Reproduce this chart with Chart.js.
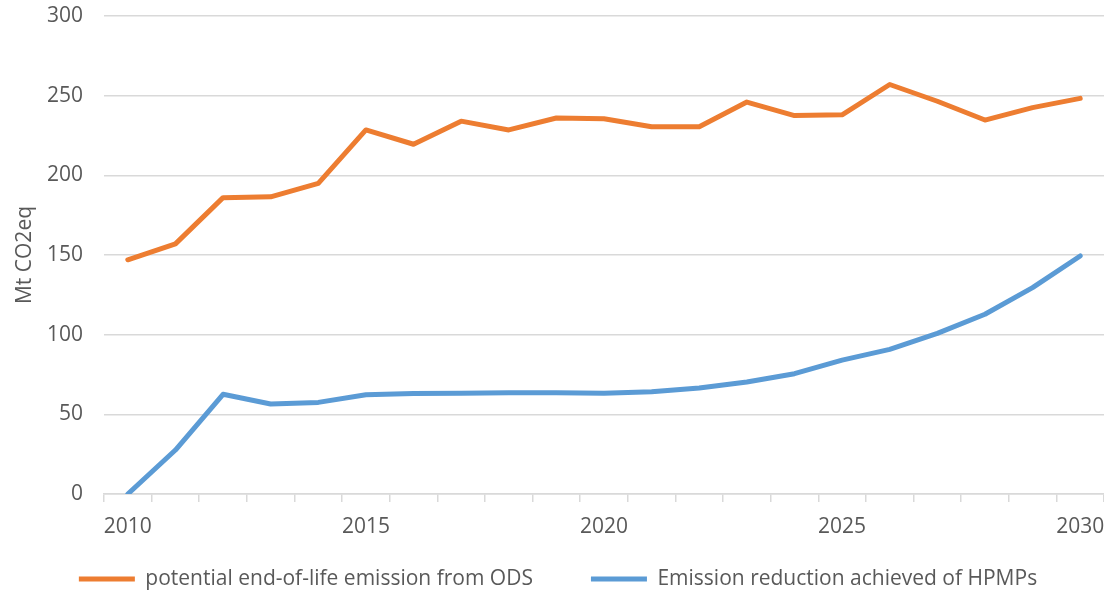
<!DOCTYPE html>
<html>
<head>
<meta charset="utf-8">
<script src="https://cdn.jsdelivr.net/npm/chart.js@4.4.0/dist/chart.umd.min.js"></script>
<style>
  html, body { margin: 0; padding: 0; background: #ffffff; }
  #wrap { width: 1104px; height: 592px; }
</style>
</head>
<body>
<div id="wrap"><canvas id="c" width="1104" height="592"></canvas></div>
<script>
const years = ['2010','2011','2012','2013','2014','2015','2016','2017','2018','2019','2020',
               '2021','2022','2023','2024','2025','2026','2027','2028','2029','2030'];
const potentialODS = [147, 157, 186, 186.5, 195, 228.5, 219.5, 234, 228.5, 236, 235.5,
                      230.5, 230.5, 246, 237.5, 238, 257, 246.5, 234.7, 242.5, 248.3];
const reductionHPMP = [0, 27.6, 62.6, 56.5, 57.5, 62.3, 63, 63.2, 63.6, 63.6, 63.2,
                       64.2, 66.5, 70.3, 75.5, 84, 90.8, 100.8, 112.8, 129.5, 149.4];
const seriesNames = ['potential end-of-life emission from ODS', 'Emission reduction achieved of HPMPs'];
const yTitle = 'Mt CO2eq';

const FONT = '"Open Sans", "Liberation Sans", sans-serif';
const TXT = '#595959';
const FS = 21;

// Move the legend row (Chart.js uses the same padding for item gaps and vertical offset)
const legendShift = {
  id: 'legendShift',
  afterLayout(chart) {
    const lg = chart.legend;
    if (lg) {
      lg.top -= 27.5;
      lg.bottom = chart.height;
      lg.height = lg.bottom - lg.top;
      lg.left += 6;
      lg.right += 6;
    }
  }
};

new Chart(document.getElementById('c'), {
  type: 'line',
  data: {
    labels: years,
    datasets: [
      { label: seriesNames[0], data: potentialODS, borderColor: '#ED7D31', backgroundColor: '#ED7D31',
        borderWidth: 5, pointRadius: 0, tension: 0, borderCapStyle: 'round', borderJoinStyle: 'round' },
      { label: seriesNames[1], data: reductionHPMP, borderColor: '#5B9BD5', backgroundColor: '#5B9BD5',
        borderWidth: 5, pointRadius: 0, tension: 0, borderCapStyle: 'round', borderJoinStyle: 'round' }
    ]
  },
  plugins: [legendShift],
  options: {
    responsive: false,
    animation: false,
    layout: { padding: { top: 0, right: 0, bottom: 0, left: 0 } },
    plugins: {
      legend: {
        position: 'bottom',
        maxHeight: 54,
        labels: {
          usePointStyle: true,
          pointStyle: 'line',
          pointStyleWidth: 56,
          boxHeight: FS,
          padding: 58,
          color: TXT,
          font: { family: FONT, size: FS }
        }
      },
      tooltip: { enabled: false }
    },
    scales: {
      x: {
        type: 'category',
        offset: true,
        afterFit: function (s) { s.height = 44; s.paddingLeft = 0; s.paddingRight = 0; },
        grid: { offset: true, drawOnChartArea: false, drawTicks: true, tickLength: 8, color: '#d9d9d9', lineWidth: 1.5 },
        border: { display: true, color: '#d9d9d9', width: 1.5 },
        ticks: {
          autoSkip: false, maxRotation: 0, padding: 12,
          color: TXT, font: { family: FONT, size: FS },
          callback: function (value, index) { return index % 5 === 0 ? this.getLabelForValue(value) : ''; }
        }
      },
      y: {
        min: 0, max: 300,
        afterFit: function (s) { s.width = 104; s.paddingTop = 16; s.paddingBottom = 0; },
        grid: { color: '#d9d9d9', lineWidth: 1.5, drawTicks: false },
        border: { display: false },
        ticks: { stepSize: 50, padding: 21, color: TXT, font: { family: FONT, size: FS } },
        title: { display: true, text: yTitle, color: TXT, font: { family: FONT, size: FS }, padding: { top: 12, bottom: 0 } }
      }
    }
  }
});
</script>
</body>
</html>
